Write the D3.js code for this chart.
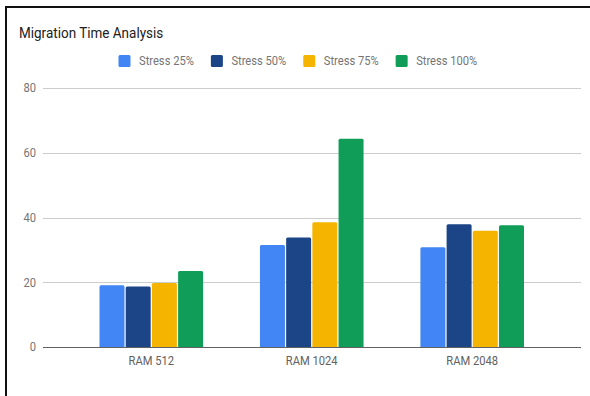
<!DOCTYPE html>
<html>
<head>
<meta charset="utf-8">
<script src="https://cdn.jsdelivr.net/npm/d3@7"></script>
<style>
  html, body { margin: 0; padding: 0; background: #fff; }
  svg { display: block; font-family: Roboto, "Noto Sans", sans-serif; }
</style>
</head>
<body>
<svg id="chart" width="590" height="396"></svg>
<script>
// ---- data ----
const categories = ["RAM 512", "RAM 1024", "RAM 2048"];
const seriesNames = ["Stress 25%", "Stress 50%", "Stress 75%", "Stress 100%"];
const stress25 = [19.1, 31.5, 30.8];
const stress50 = [18.7, 33.8, 37.9];
const stress75 = [19.8, 38.5, 35.9];
const stress100 = [23.5, 64.3, 37.6];
const yTicks = [0, 20, 40, 60, 80];
const colors = ["#4285f4", "#1c4587", "#f4b400", "#0f9d58"];
const title = "Migration Time Analysis";

const seriesValues = [stress25, stress50, stress75, stress100];

const svg = d3.select("#chart");
const squeeze = 0.93; // text in reference is slightly condensed horizontally
function condense(sel) {
  sel.each(function () {
    const w = this.getComputedTextLength();
    d3.select(this).attr("textLength", w * squeeze).attr("lengthAdjust", "spacingAndGlyphs");
  });
  return sel;
}

// frame border (top and left)
svg.append("rect").attr("x", 5).attr("y", 6).attr("width", 585).attr("height", 2).attr("fill", "#111");
svg.append("rect").attr("x", 5).attr("y", 6).attr("width", 2).attr("height", 390).attr("fill", "#111");

// scales
const gridLeft = 43, gridRight = 581;
const y = d3.scaleLinear().domain([0, 80]).range([347, 88]);
const x0 = d3.scalePoint().domain(categories).range([151.3, 472.2]);
const groupW = 103.6;
const x1 = d3.scaleBand().domain(seriesNames).range([-groupW / 2, groupW / 2]).paddingInner(0.046).paddingOuter(0);

// gridlines
svg.append("g").selectAll("line").data(yTicks.filter(d => d !== 0)).join("line")
  .attr("x1", gridLeft).attr("x2", gridRight)
  .attr("y1", d => Math.round(y(d)) + 0.5).attr("y2", d => Math.round(y(d)) + 0.5)
  .attr("stroke", "#cccccc").attr("stroke-width", 1);

// y tick labels
svg.append("g").selectAll("text").data(yTicks).join("text")
  .attr("x", 36).attr("y", d => y(d) + 4.3)
  .attr("text-anchor", "end")
  .attr("font-size", 12).attr("fill", "#757575")
  .text(d => d)
  .call(condense);

// bars
const rows = [];
categories.forEach((c, i) => seriesNames.forEach((s, j) => rows.push({ c, s, j, v: seriesValues[j][i] })));
svg.append("g").selectAll("path").data(rows).join("path")
  .attr("fill", d => colors[d.j])
  .attr("d", d => {
    const xl = x0(d.c) + x1(d.s), w = x1.bandwidth(), yt = y(d.v), yb = y(0), r = 1.5;
    return `M${xl},${yb}V${yt + r}Q${xl},${yt} ${xl + r},${yt}H${xl + w - r}Q${xl + w},${yt} ${xl + w},${yt + r}V${yb}Z`;
  });

// baseline
svg.append("line").attr("x1", gridLeft).attr("x2", gridRight)
  .attr("y1", Math.round(y(0)) + 0.5).attr("y2", Math.round(y(0)) + 0.5)
  .attr("stroke", "#616161").attr("stroke-width", 1);

// category labels
svg.append("g").selectAll("text").data(categories).join("text")
  .attr("x", d => x0(d)).attr("y", 365)
  .attr("text-anchor", "middle")
  .attr("font-size", 12).attr("fill", "#616161")
  .text(d => d)
  .call(condense);

// title
svg.append("text").attr("x", 19).attr("y", 37.5)
  .attr("font-size", 14.5).attr("fill", "#212121")
  .text(title)
  .call(condense);

// legend
const lg = svg.append("g");
let lx = 118.5;
seriesNames.forEach((s, j) => {
  lg.append("rect").attr("x", lx).attr("y", 55).attr("width", 12).attr("height", 12)
    .attr("rx", 1.5).attr("fill", colors[j]);
  const t = lg.append("text").attr("x", lx + 20.5).attr("y", 65.3)
    .attr("font-size", 12).attr("fill", "#757575").text(s);
  const w = t.node().getComputedTextLength() * squeeze;
  condense(t);
  lx = lx + 20.5 + w + 17;
});
</script>
</body>
</html>
